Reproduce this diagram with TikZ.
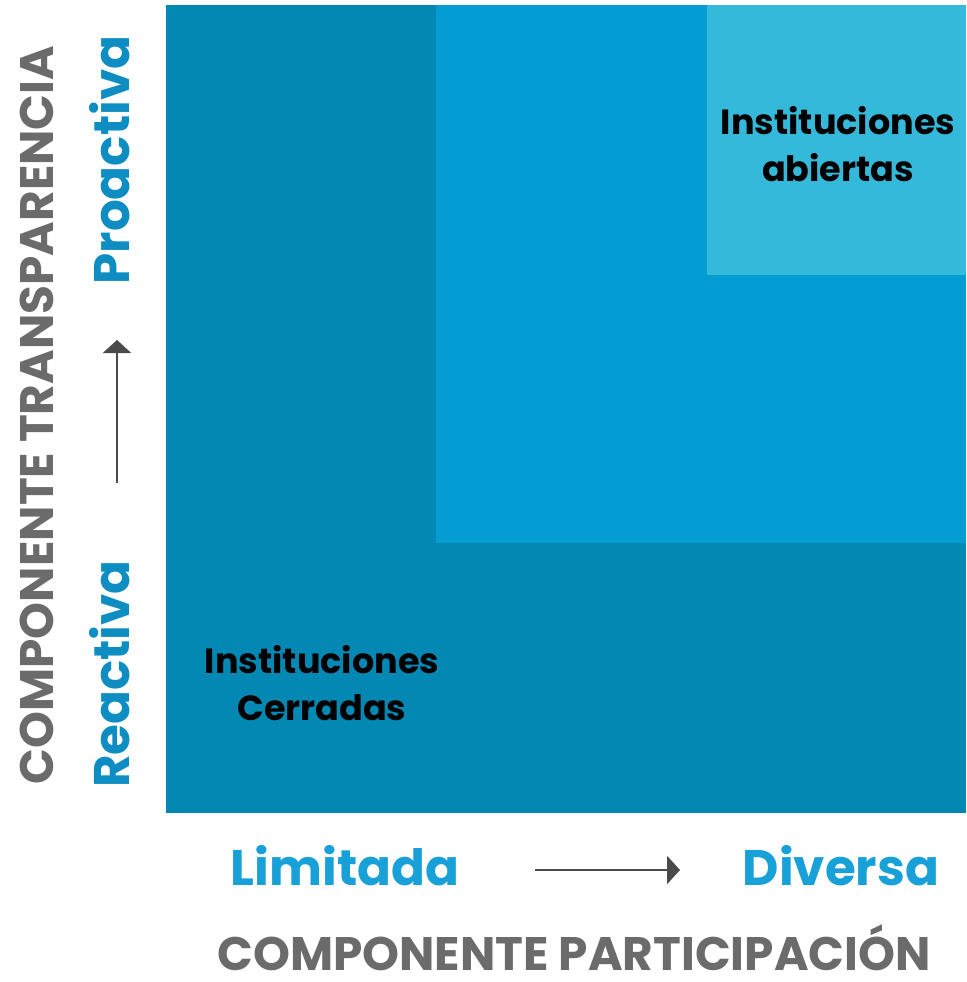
\documentclass[tikz,border=0pt]{standalone}
\usepackage{fontspec}
\setmainfont{Poppins}
\usetikzlibrary{arrows.meta,positioning}
\definecolor{cerrada}{HTML}{0388B4}
\definecolor{media}{HTML}{049DD3}
\definecolor{abierta}{HTML}{35B9DB}
\definecolor{nivelazul}{HTML}{18A1D8}
\definecolor{nivelvert}{HTML}{0E8DC2}
\definecolor{ejegris}{HTML}{6B6B6B}
\definecolor{flechagris}{HTML}{4A4A4A}
\tikzstyle{eje}=[text=ejegris, font=\fontsize{47}{47}\selectfont\bfseries, inner sep=0pt, text depth=0pt, anchor=base]
\tikzstyle{nivel}=[text=nivelazul, font=\fontsize{50}{50}\selectfont\bfseries, inner sep=0pt, anchor=base]
\tikzstyle{inst}=[text=black, align=center, font=\fontsize{35}{47}\selectfont\bfseries, inner sep=0pt]
\tikzstyle{flecha}=[draw=flechagris, line width=2.5pt, -{Triangle[length=13pt,width=28pt]}]
\begin{document}
\begin{tikzpicture}[x=1pt,y=-1pt]
 \useasboundingbox (0,0) rectangle (966,982);
%
 \fill[cerrada] (166,5) rectangle (966,813);
 \fill[media] (436,5) rectangle (966,543);
 \fill[abierta] (707,5) rectangle (966,275);
%
 \node[inst] (abiertas) at (838,144) {Instituciones\\abiertas};
 \node[inst] (cerradas) at (322,683) {Instituciones\\Cerradas};
%
 \node[eje, rotate=90] (transparencia) at (53,415) {COMPONENTE TRANSPARENCIA};
 \node[nivel, text=nivelvert, rotate=90] (proactiva) at (129,160) {Proactiva};
 \node[nivel, text=nivelvert, rotate=90] (reactiva) at (129,674) {Reactiva};
 \coordinate (t0) at (117,483);
 \coordinate (t1) at (117,340);
 \draw[flecha] (t0) -- (t1);
%
 \node[nivel] (limitada) at (345,885) {Limitada};
 \node[nivel] (diversa) at (841,885) {Diversa};
 \coordinate (p0) at (535,870);
 \coordinate (p1) at (680,870);
 \draw[flecha] (p0) -- (p1);
 \node[eje] (participacion) at (574,970) {COMPONENTE PARTICIPACIÓN};
\end{tikzpicture}
\end{document}
